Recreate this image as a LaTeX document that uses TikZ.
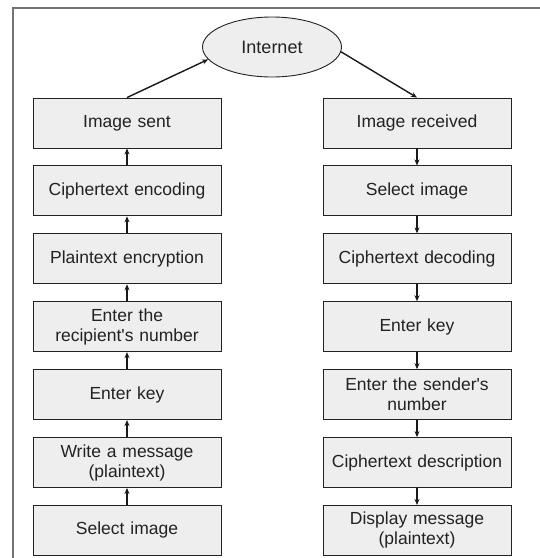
\documentclass[tikz,border=0pt]{standalone}
\usepackage{fontspec}
\setmainfont{Liberation Sans}
\usetikzlibrary{positioning,shapes.geometric,arrows.meta}
\definecolor{boxgray}{HTML}{EEEEEE}
\definecolor{inkgray}{HTML}{222222}
\tikzset{
	stepbox/.style={rectangle,draw=inkgray,fill=boxgray,line width=0.9pt,minimum width=188pt,minimum height=50pt,text width=184pt,align=center,inner sep=1pt,text=inkgray,font=\fontsize{17.5}{20}\selectfont},
	webnode/.style={ellipse,draw=inkgray,fill=boxgray,line width=0.9pt,minimum width=139pt,minimum height=60pt,text=inkgray,font=\fontsize{18}{20}\selectfont},
	flow/.style={-{Stealth[length=6pt,width=5pt]},line width=1.4pt,draw=black!90},
	node distance=17pt
}
\begin{document}
\begin{tikzpicture}[x=1pt,y=1pt]
\useasboundingbox (0,0) rectangle (540,-558);
\draw[line width=1.4pt,black!55] (540,-8) -- (13,-8) -- (13,-558);

\node[webnode] (net) at (272,-47) {Internet};

\node[stepbox] (sent) at (127,-123) {Image sent};
\node[stepbox,below=of sent] (enc) {Ciphertext encoding};
\node[stepbox,below=of enc] (crypt) {Plaintext encryption};
\node[stepbox,below=of crypt] (recip) {Enter the\\recipient\textquotesingle s number};
\node[stepbox,below=of recip] (skey) {Enter key};
\node[stepbox,below=of skey] (write) {Write a message\\(plaintext)};
\node[stepbox,below=of write] (ssel) {Select image};

\node[stepbox] (recv) at (417,-123) {Image received};
\node[stepbox,below=of recv] (rsel) {Select image};
\node[stepbox,below=of rsel] (dec) {Ciphertext decoding};
\node[stepbox,below=of dec] (rkey) {Enter key};
\node[stepbox,below=of rkey] (sender) {Enter the sender\textquotesingle s\\number};
\node[stepbox,below=of sender] (descr) {Ciphertext description};
\node[stepbox,below=of descr] (show) {Display message\\(plaintext)};

\draw[flow] (sent.north) -- (net.191);
\draw[flow] (net.-4) -- (recv.north);

\foreach \a/\b in {ssel/write,write/skey,skey/recip,recip/crypt,crypt/enc,enc/sent}
	\draw[flow] (\a) -- (\b);
\foreach \a/\b in {recv/rsel,rsel/dec,dec/rkey,rkey/sender,sender/descr,descr/show}
	\draw[flow] (\a) -- (\b);
\end{tikzpicture}
\end{document}
